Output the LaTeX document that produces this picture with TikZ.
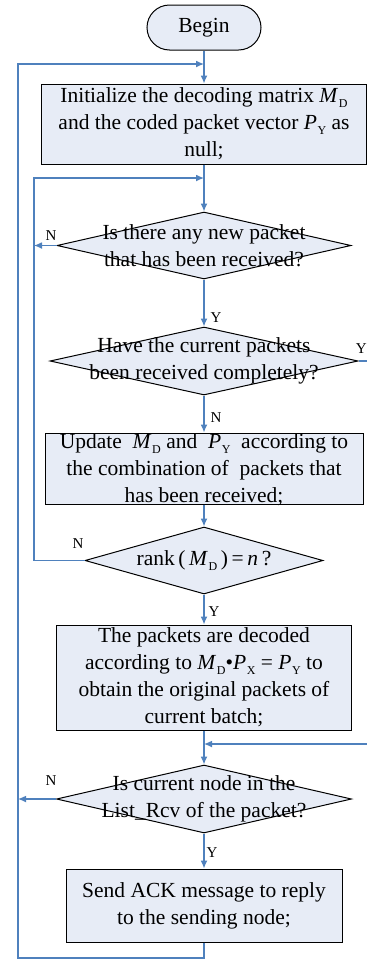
\documentclass[tikz,border=0pt]{standalone}
\usepackage{fontspec}
\setmainfont{Liberation Serif}
\usetikzlibrary{arrows.meta,shapes.geometric}
\definecolor{flowblue}{RGB}{79,129,189}
\definecolor{flowfill}{RGB}{231,236,246}
\newcommand{\msub}[2]{\textit{#1}\kern0.3pt\raisebox{-0.45ex}{\fontsize{6}{6}\selectfont #2}}
\tikzset{
  procbox/.style={draw=black, fill=flowfill, line width=0.5pt, inner sep=0pt, align=center,
    font=\fontsize{10.75}{13.5}\selectfont},
  decision/.style={diamond, draw=black, fill=flowfill, line width=0.5pt, inner sep=0pt},
  flowtext/.style={align=center, inner sep=0pt, font=\fontsize{10.75}{13.5}\selectfont},
  yn/.style={inner sep=0pt, font=\fontsize{7.5}{9}\selectfont},
  link/.style={draw=flowblue, line width=0.6pt},
  arr/.style={link, -{Latex[length=4pt,width=3.4pt]}}
}
\begin{document}
\begin{tikzpicture}[x=0.5pt, y=-0.5pt]
\useasboundingbox (0,0) rectangle (367,959);

% boxes and decisions
\node[procbox, rounded corners=11.25pt, minimum width=57pt, minimum height=22.5pt] (begin) at (204,27.5) {Begin};
\node[procbox, minimum width=162.5pt, minimum height=40pt] (init) at (204,124) {Initialize the decoding matrix \msub{M}{D}\\and the coded packet vector \msub{P}{Y} as\\null;};
\node[decision, minimum width=147pt, minimum height=33.5pt] (isnew) at (204,245.5) {};
\node[flowtext] (isnewtxt) at (isnew) {Is there any new packet\\that has been received?};
\node[decision, minimum width=154pt, minimum height=34pt] (iscomp) at (204,361) {};
\node[flowtext] (iscomptxt) at (iscomp) {Have the current packets\\been received completely?};
\node[procbox, minimum width=159pt, minimum height=35.5pt] (update) at (204,468.5) {};
\node[flowtext] (updatetxt) at (204,470) {Update \ \msub{M}{D} and \ \msub{P}{Y} \ according to\\the combination of \ packets that\\has been received;};
\node[decision, minimum width=119pt, minimum height=33.5pt] (rank) at (204,560.5) {};
\node[flowtext] (ranktxt) at (rank) {rank\,(\,\msub{M}{D}\,)\,=\,\textit{n}\,?};
\node[procbox, minimum width=147.5pt, minimum height=52.5pt] (decode) at (204,677.5) {The packets are decoded\\according to \msub{M}{D}\textbullet\msub{P}{X} = \msub{P}{Y} to\\obtain the original packets of\\current batch;};
\node[decision, minimum width=147.5pt, minimum height=34pt] (inlist) at (204,799) {};
\node[flowtext] (inlisttxt) at (inlist) {Is current node in the\\List\_Rcv of the packet?};
\node[procbox, minimum width=138pt, minimum height=36.5pt] (ack) at (204,905.5) {Send ACK message to reply\\to the sending node;};

% loop corners
\coordinate (outer) at (18,64);
\coordinate (inner) at (34,178);
\coordinate (rside) at (368,744);

% connectors
\draw[arr] (begin) -- (init);
\draw[arr] (ack) -- (204,958) -| (outer) -- (outer -| init);
\draw[arr] (init) -- (isnew);
\draw[arr] (isnew.west) -- node[yn, pos=0.24, above=2pt] {N} (isnew.west -| inner);
\draw[arr] (isnew) -- node[yn, pos=0.8, right=3pt] {Y} (iscomp);
\draw[arr] (iscomp.east) -- node[yn, pos=0.3, above=3.5pt] {Y} (iscomp.east -| rside) -- (rside) -- (rside -| decode);
\draw[arr] (iscomp) -- node[yn, pos=0.59, right=3pt] {N} (update);
\draw[arr] (update) -- (rank);
\draw[arr] (rank.west) -- node[yn, pos=0.13, above=5.5pt] {N} (rank.west -| inner) -- (inner) -- (inner -| init);
\draw[arr] (rank) -- node[yn, pos=0.58, right=2pt] {Y} (decode);
\draw[arr] (decode) -- (inlist);
\draw[arr] (inlist.west) -- node[yn, pos=0.13, above=6.5pt] {N} (inlist.west -| outer);
\draw[arr] (inlist) -- node[yn, pos=0.55, right=1pt] {Y} (ack);
\end{tikzpicture}
\end{document}
